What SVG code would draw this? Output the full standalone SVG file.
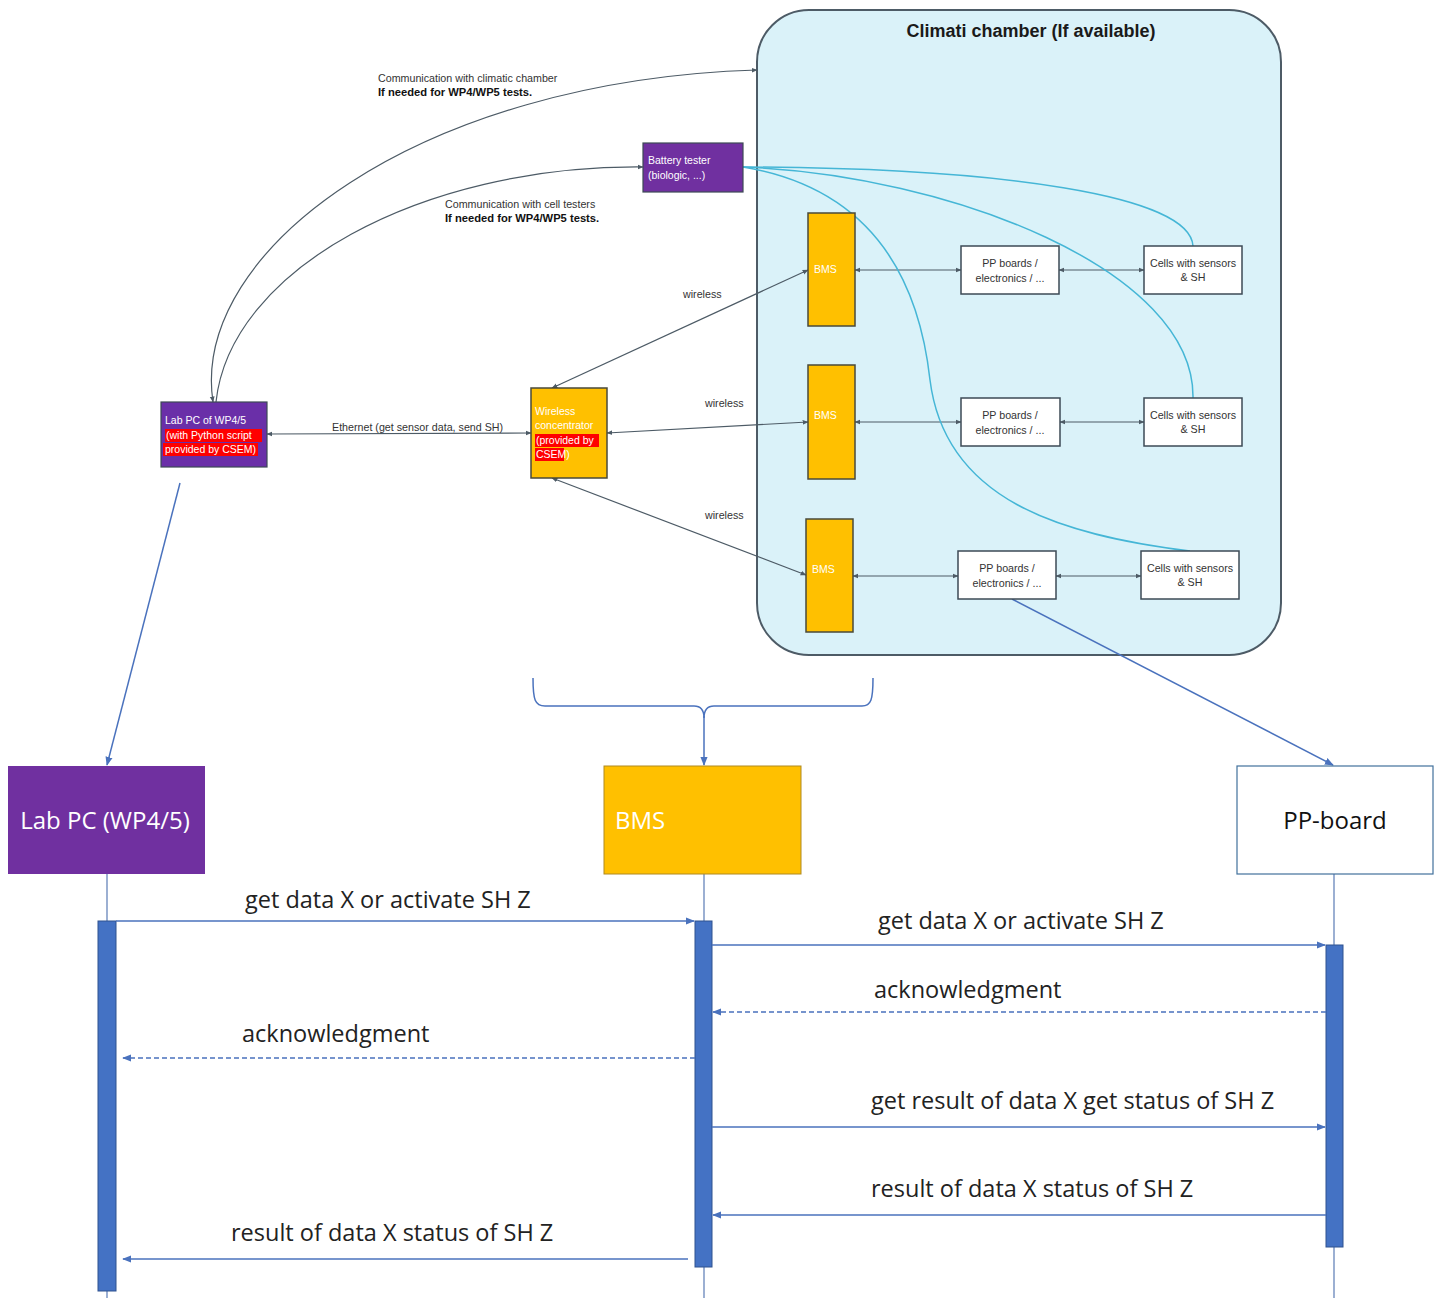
<svg xmlns="http://www.w3.org/2000/svg" width="1443" height="1298" viewBox="0 0 1443 1298">
<style>
.sm{font-family:"Liberation Sans",Arial,sans-serif;font-size:10.7px;fill:#333}
.smb{font-family:"Liberation Sans",Arial,sans-serif;font-size:11.2px;font-weight:bold;fill:#111}
.wt{font-family:"Liberation Sans",Arial,sans-serif;font-size:10.5px;fill:#fff}
.big{font-family:"Open Sans","Liberation Sans",sans-serif;font-size:23.5px;fill:#222}
.hdr{font-family:"Open Sans","Liberation Sans",sans-serif;font-size:24px}
.gl{stroke:#4d5b66;stroke-width:1.2;fill:none}
.cy{stroke:#45b6d6;stroke-width:1.5;fill:none}
.bl{stroke:#4a72bd;stroke-width:1.5;fill:none}
.life{stroke:#5a7bb5;stroke-width:1.2}
.bar{fill:#4472c4;stroke:#2f528f;stroke-width:1}
.wbox{fill:#fff;stroke:#3d4a55;stroke-width:1.5}
.bms{fill:#ffc000;stroke:#4a4a3a;stroke-width:1.5}
.red{fill:#ff0000}
</style>
<defs>
<marker id="ga" viewBox="0 0 10 10" refX="9" refY="5" markerWidth="5" markerHeight="5" orient="auto-start-reverse"><path d="M0,1 L10,5 L0,9 z" fill="#4d5b66"/></marker>
<marker id="ba" viewBox="0 0 10 10" refX="9" refY="5" markerWidth="6" markerHeight="6" orient="auto-start-reverse"><path d="M0,1 L10,5 L0,9 z" fill="#4a72bd"/></marker>
</defs>

<g id="chamber">
<rect x="757" y="10" width="524" height="645" rx="52" fill="#daf2f9" stroke="#4d5b66" stroke-width="2"/>
<text x="1031" y="37" text-anchor="middle" font-family="Liberation Sans,Arial,sans-serif" font-size="18" font-weight="bold" fill="#1a1a1a">Climati chamber (If available)</text>
</g>

<g id="connectors">
<path class="gl" d="M213,402 C190,250 420,80 757,70" marker-start="url(#ga)" marker-end="url(#ga)"/>
<path class="gl" d="M216,402 C230,270 420,165 643,167" marker-end="url(#ga)"/>
<line class="gl" x1="267" y1="434" x2="531" y2="433" marker-start="url(#ga)" marker-end="url(#ga)"/>
<line class="gl" x1="552" y1="388" x2="808" y2="270" marker-start="url(#ga)" marker-end="url(#ga)"/>
<line class="gl" x1="607" y1="433" x2="808" y2="422" marker-start="url(#ga)" marker-end="url(#ga)"/>
<line class="gl" x1="806" y1="575" x2="552" y2="478" marker-start="url(#ga)" marker-end="url(#ga)"/>
<line class="gl" x1="855" y1="270" x2="961" y2="270" marker-start="url(#ga)" marker-end="url(#ga)"/>
<line class="gl" x1="1059" y1="270" x2="1144" y2="270" marker-start="url(#ga)" marker-end="url(#ga)"/>
<line class="gl" x1="855" y1="422" x2="961" y2="422" marker-start="url(#ga)" marker-end="url(#ga)"/>
<line class="gl" x1="1060" y1="422" x2="1144" y2="422" marker-start="url(#ga)" marker-end="url(#ga)"/>
<line class="gl" x1="853" y1="576" x2="958" y2="576" marker-start="url(#ga)" marker-end="url(#ga)"/>
<line class="gl" x1="1056" y1="576" x2="1141" y2="576" marker-start="url(#ga)" marker-end="url(#ga)"/>
<path class="cy" d="M743,167 C1000,168 1190,195 1193,246"/>
<path class="cy" d="M743,167 C950,175 1195,270 1193,398"/>
<path class="cy" d="M743,167 C880,190 920,290 930,380 C945,500 1060,535 1190,551"/>
<line class="bl" x1="1012" y1="599" x2="1333" y2="765" marker-end="url(#ba)"/>
<line class="bl" x1="180" y1="483" x2="107" y2="765" marker-end="url(#ba)"/>
<path class="bl" d="M533,678 C533,700 535,706 545,706 L694,706 C702,706 704,712 704,718 C704,712 706,706 714,706 L862,706 C871,706 873,700 873,678"/>
<line class="bl" x1="704" y1="716" x2="704" y2="765" marker-end="url(#ba)"/>
<text class="sm" x="378" y="82">Communication with climatic chamber</text>
<text class="smb" x="378" y="96">If needed for WP4/WP5 tests.</text>
<text class="sm" x="445" y="208">Communication with cell testers</text>
<text class="smb" x="445" y="222">If needed for WP4/WP5 tests.</text>
<text class="sm" x="332" y="431">Ethernet (get sensor data, send SH)</text>
<text class="sm" x="683" y="298">wireless</text>
<text class="sm" x="705" y="407">wireless</text>
<text class="sm" x="705" y="519">wireless</text>
</g>

<g id="battery-tester">
<rect x="643" y="143" width="100" height="49" fill="#7030a0" stroke="#3d4a55" stroke-width="1.2"/>
<text class="wt" x="648" y="164">Battery tester</text>
<text class="wt" x="648" y="179">(biologic, ...)</text>
</g>

<g id="labpc-small">
<rect x="161" y="402" width="106" height="65" fill="#6a2fa8" stroke="#3d4a55" stroke-width="1.2"/>
<rect class="red" x="165" y="429" width="97" height="13"/>
<rect class="red" x="163" y="443" width="95" height="13"/>
<text class="wt" x="165" y="424">Lab PC of WP4/5</text>
<text class="wt" x="166" y="439">(with Python script</text>
<text class="wt" x="165" y="453">provided by CSEM)</text>
</g>

<g id="wireless-concentrator">
<rect class="bms" x="531" y="388" width="76" height="90"/>
<rect class="red" x="535" y="434" width="64" height="13"/>
<rect class="red" x="535" y="448" width="29" height="13"/>
<text class="wt" x="535" y="415">Wireless</text>
<text class="wt" x="535" y="429">concentrator</text>
<text class="wt" x="536" y="444">(provided by</text>
<text class="wt" x="536" y="458">CSEM)</text>
</g>

<g id="bms1"><rect class="bms" x="808" y="213" width="47" height="113"/><text class="wt" x="814" y="273">BMS</text></g>
<g id="bms2"><rect class="bms" x="808" y="365" width="47" height="114"/><text class="wt" x="814" y="419">BMS</text></g>
<g id="bms3"><rect class="bms" x="806" y="519" width="47" height="113"/><text class="wt" x="812" y="573">BMS</text></g>

<g id="pp1"><rect class="wbox" x="961" y="246" width="98" height="48"/><text class="sm" x="1010" y="267" text-anchor="middle">PP boards /</text><text class="sm" x="1010" y="282" text-anchor="middle">electronics / ...</text></g>
<g id="pp2"><rect class="wbox" x="961" y="398" width="99" height="48"/><text class="sm" x="1010" y="419" text-anchor="middle">PP boards /</text><text class="sm" x="1010" y="434" text-anchor="middle">electronics / ...</text></g>
<g id="pp3"><rect class="wbox" x="958" y="551" width="98" height="48"/><text class="sm" x="1007" y="572" text-anchor="middle">PP boards /</text><text class="sm" x="1007" y="587" text-anchor="middle">electronics / ...</text></g>

<g id="cells1"><rect class="wbox" x="1144" y="246" width="98" height="48"/><text class="sm" x="1193" y="267" text-anchor="middle">Cells with sensors</text><text class="sm" x="1193" y="281" text-anchor="middle">&amp; SH</text></g>
<g id="cells2"><rect class="wbox" x="1144" y="398" width="98" height="48"/><text class="sm" x="1193" y="419" text-anchor="middle">Cells with sensors</text><text class="sm" x="1193" y="433" text-anchor="middle">&amp; SH</text></g>
<g id="cells3"><rect class="wbox" x="1141" y="551" width="98" height="48"/><text class="sm" x="1190" y="572" text-anchor="middle">Cells with sensors</text><text class="sm" x="1190" y="586" text-anchor="middle">&amp; SH</text></g>

<g id="seq-lifelines">
<line class="life" x1="107" y1="874" x2="107" y2="1298"/>
<line class="life" x1="704" y1="874" x2="704" y2="1298"/>
<line class="life" x1="1334" y1="874" x2="1334" y2="1298"/>
</g>

<g id="labpc"><rect x="8" y="766" width="197" height="108" fill="#7030a0"/><text class="hdr" x="105" y="829" text-anchor="middle" fill="#fff">Lab PC (WP4/5)</text></g>
<g id="bms"><rect x="604" y="766" width="197" height="108" fill="#ffc000" stroke="#b08a20" stroke-width="1"/><text class="hdr" x="615" y="829" fill="#fff">BMS</text></g>
<g id="ppboard"><rect x="1237" y="766" width="196" height="108" fill="#fff" stroke="#41719c" stroke-width="1.2"/><text class="hdr" x="1335" y="829" text-anchor="middle" fill="#111">PP-board</text></g>

<g id="activations">
<rect class="bar" x="98" y="921" width="18" height="370"/>
<rect class="bar" x="695" y="921" width="17" height="346"/>
<rect class="bar" x="1326" y="945" width="17" height="302"/>
</g>

<g id="messages">
<line class="bl" x1="116" y1="921" x2="694" y2="921" marker-end="url(#ba)"/>
<line class="bl" x1="712" y1="945" x2="1325" y2="945" marker-end="url(#ba)"/>
<line class="bl" x1="1326" y1="1012" x2="713" y2="1012" stroke-dasharray="5,3" marker-end="url(#ba)"/>
<line class="bl" x1="695" y1="1058" x2="123" y2="1058" stroke-dasharray="5,3" marker-end="url(#ba)"/>
<line class="bl" x1="712" y1="1127" x2="1325" y2="1127" marker-end="url(#ba)"/>
<line class="bl" x1="1326" y1="1215" x2="713" y2="1215" marker-end="url(#ba)"/>
<line class="bl" x1="688" y1="1259" x2="123" y2="1259" marker-end="url(#ba)"/>
<text class="big" x="245" y="908">get data X or activate SH Z</text>
<text class="big" x="878" y="929">get data X or activate SH Z</text>
<text class="big" x="874" y="998">acknowledgment</text>
<text class="big" x="242" y="1042">acknowledgment</text>
<text class="big" x="871" y="1109">get result of data X get status of SH Z</text>
<text class="big" x="871" y="1197">result of data X status of SH Z</text>
<text class="big" x="231" y="1241">result of data X status of SH Z</text>
</g>
</svg>
